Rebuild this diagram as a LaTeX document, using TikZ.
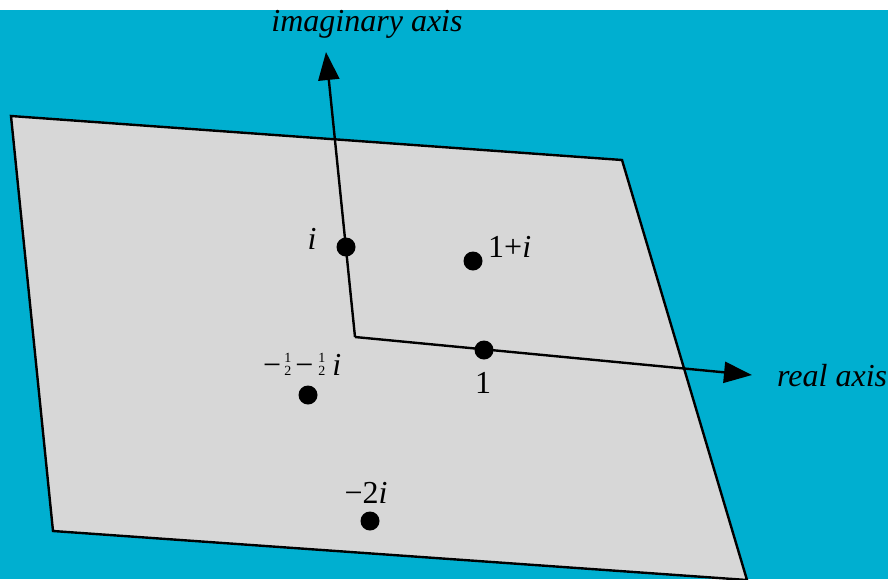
\documentclass[tikz,border=0pt]{standalone}
\usepackage{fontspec}
\setmainfont{Liberation Serif}
\usetikzlibrary{arrows.meta}
\definecolor{bgcyan}{RGB}{0,175,208}
\definecolor{planegray}{RGB}{215,215,215}
\newcommand{\hfr}{{\fontsize{14}{18}\selectfont\shortstack{1\\2}}}
\tikzset{
  dot/.style={circle,fill=black,inner sep=0pt,minimum size=19pt},
  axis/.style={line width=2.4pt,-{Triangle[length=28pt,width=21pt]}},
  lbl/.style={inner sep=0pt,font=\fontsize{32}{38}\selectfont},
  plane/.style={fill=planegray,draw=black,line width=2.4pt,line join=miter}
}
\begin{document}
\begin{tikzpicture}[x=1pt,y=-1pt]
\useasboundingbox (0,0) rectangle (888,579);
\fill[white] (0,0) rectangle (888,10);
\fill[bgcyan] (0,10) rectangle (888,579);
% plane
\coordinate (p1) at (11,116);
\coordinate (p2) at (622,160);
\coordinate (p3) at (747,580);
\coordinate (p4) at (53,531);
\draw[plane] (p1) -- (p2) -- (p3) -- (p4) -- cycle;
% axes
\coordinate (O) at (355,337);
\coordinate (Itip) at (326,52);
\coordinate (Rtip) at (752,375);
\draw[axis,line join=miter] (O) -- (Itip);
\draw[axis] (O) -- (Rtip);
% dots
\node[dot] (di) at (346,247) {};
\node[dot] (d1i) at (473,261) {};
\node[dot] (d1) at (484,350) {};
\node[dot] (dh) at (308,395) {};
\node[dot] (d2i) at (370,521) {};
% labels
\node[lbl,anchor=base] (limag) at (367,31) {\itshape imaginary axis};
\node[lbl,anchor=base west] (lreal) at (777,386) {\itshape real axis};
\node[lbl,anchor=base] (li) at (312,249) {\itshape i};
\node[lbl,anchor=base west] (l1i) at (488,257) {1+\textit{i}};
\node[lbl,anchor=base] (l1) at (483,393) {1};
\node[lbl,anchor=base] (l2i) at (366,503) {−2\textit{i}};
\node[lbl,anchor=base west] (lh) at (263,375) {−\kern3pt\hfr\kern4pt−\kern5pt\hfr\kern7pt\textit{i}};
\end{tikzpicture}
\end{document}
